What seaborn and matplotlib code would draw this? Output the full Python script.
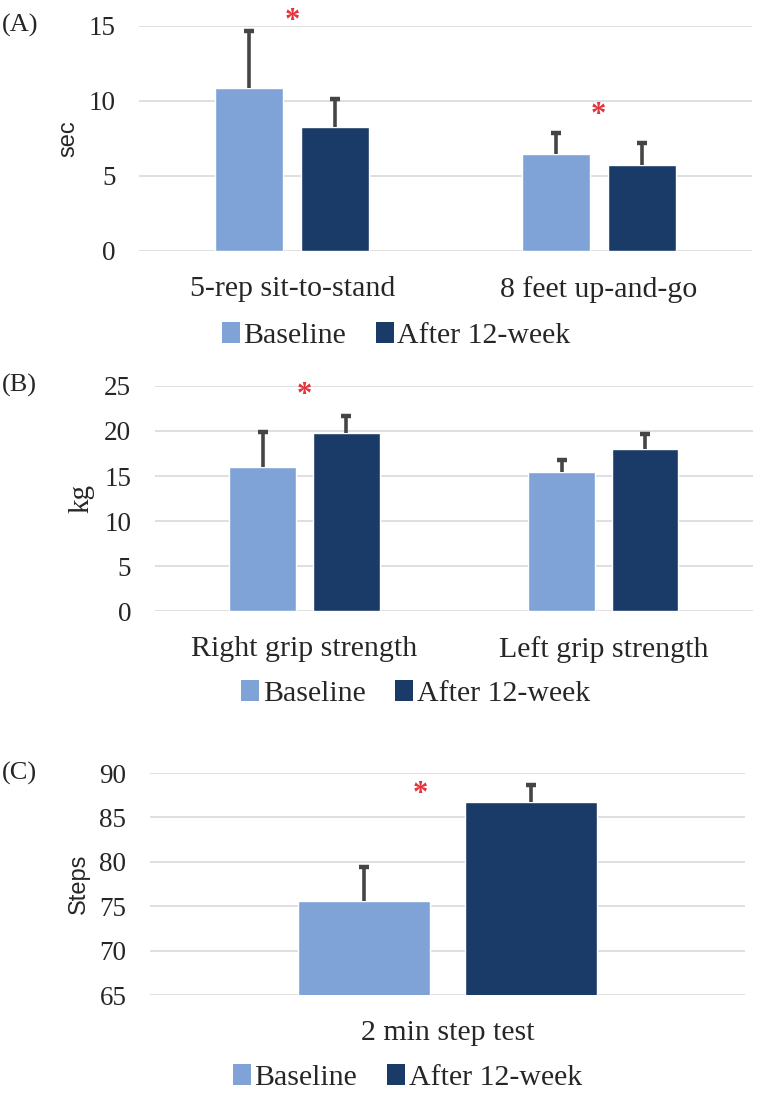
import pandas as pd
import numpy as np
import matplotlib
matplotlib.use("Agg")
import matplotlib.pyplot as plt
import seaborn as sns
from matplotlib.patches import Patch

groups = ["Baseline", "After 12-week"]
colors = ["#7FA3D6", "#1A3B68"]

# (A) functional tests, sec
tests_a = ["5-rep sit-to-stand", "8 feet up-and-go"]
baseline_a = [10.84, 6.48]
after_a = [8.24, 5.73]
baseline_a_sd = [3.83, 1.37]
after_a_sd = [1.87, 1.46]

# (B) grip strength, kg
tests_b = ["Right grip strength", "Left grip strength"]
baseline_b = [16.03, 15.44]
after_b = [19.76, 18.05]
baseline_b_sd = [3.91, 1.29]
after_b_sd = [1.92, 1.62]

# (C) step test, steps
tests_c = ["2 min step test"]
baseline_c = [75.56]
after_c = [86.73]
baseline_c_sd = [3.91]
after_c_sd = [1.95]

serif = "Liberation Serif"
sans = "Liberation Sans"

sns.set_theme(style="white")
plt.rcParams["font.family"] = [serif, "DejaVu Serif"]


def panel(ax, tests, base, after, base_sd, after_sd, ylim, yticks,
          ylabel, ylab_font, ylab_size, stars, tag, leg_xy):
    df = pd.DataFrame({
        "test": tests * 2,
        "value": base + after,
        "group": [groups[0]] * len(tests) + [groups[1]] * len(tests),
    })
    sns.barplot(data=df, x="test", y="value", hue="group", hue_order=groups,
                palette=colors, width=0.56, gap=0.207, errorbar=None,
                saturation=1, legend=False, ax=ax, zorder=2)

    # one-sided SD bars, cap only on top
    for cont, sds in zip(ax.containers, [base_sd, after_sd]):
        for bar, s in zip(cont, sds):
            x = bar.get_x() + bar.get_width() / 2
            h = bar.get_height()
            _, caps, _ = ax.errorbar(x, h, yerr=[[0], [s]], fmt="none",
                                     ecolor="#454545", elinewidth=2.6,
                                     capsize=3.4, capthick=3.2, zorder=3)
            for c in caps:
                if np.allclose(c.get_ydata(), h):
                    c.set_visible(False)

    for sx, sy in stars:
        ax.text(sx, sy, "*", color="#E5333B", fontsize=22, fontweight="bold",
                ha="center", va="center", clip_on=False)

    ax.set_ylim(*ylim)
    ax.set_yticks(yticks)
    ax.set_xlim(-0.5, len(tests) - 0.5)
    ax.grid(axis="y", color="#D9D9D9", linewidth=1.2)
    ax.set_axisbelow(True)
    sns.despine(ax=ax, left=True, bottom=True)
    ax.tick_params(axis="y", length=0, pad=17, labelsize=19.5)
    ax.tick_params(axis="x", length=0, pad=18, labelsize=21.5)
    ax.set_xlabel("")
    ax.set_ylabel(ylabel, fontsize=ylab_size, family=ylab_font)
    w = ax.get_position().width * fig.get_figwidth() * fig.dpi
    ax.yaxis.set_label_coords(-60 / w, 0.5)

    handles = [Patch(facecolor=c, edgecolor="none") for c in colors]
    ax.legend(handles, groups, loc="center", ncol=2, frameon=False,
              fontsize=21.5, handlelength=0.6, handleheight=0.7,
              handletextpad=0.12, columnspacing=1.0,
              bbox_to_anchor=leg_xy, bbox_transform=fig.transFigure)

    fig.text(0.002, ax.get_position().y1, tag, fontsize=19, va="center",
             ha="left")


fig = plt.figure(figsize=(7.6, 10.95), dpi=100)
ax_a = fig.add_axes([0.1829, 0.7708, 0.8066, 0.2055])
ax_b = fig.add_axes([0.2039, 0.4416, 0.7868, 0.2060])
ax_c = fig.add_axes([0.1974, 0.0913, 0.7829, 0.2027])

panel(ax_a, tests_a, baseline_a, after_a, baseline_a_sd, after_a_sd,
      (0, 15), [0, 5, 10, 15], "sec", sans, 17,
      [(0.0, 15.3), (1.0, 9.0)], "(A)", (0.521, 0.694))
panel(ax_b, tests_b, baseline_b, after_b, baseline_b_sd, after_b_sd,
      (0, 25), [0, 5, 10, 15, 20, 25], "kg", serif, 21,
      [(0.0, 23.9)], "(B)", (0.547, 0.367))
panel(ax_c, tests_c, baseline_c, after_c, baseline_c_sd, after_c_sd,
      (65, 90), [65, 70, 75, 80, 85, 90], "Steps", sans, 17,
      [(-0.045, 87.56)], "(C)", (0.536, 0.016))

fig.savefig("out.png", dpi=100)
